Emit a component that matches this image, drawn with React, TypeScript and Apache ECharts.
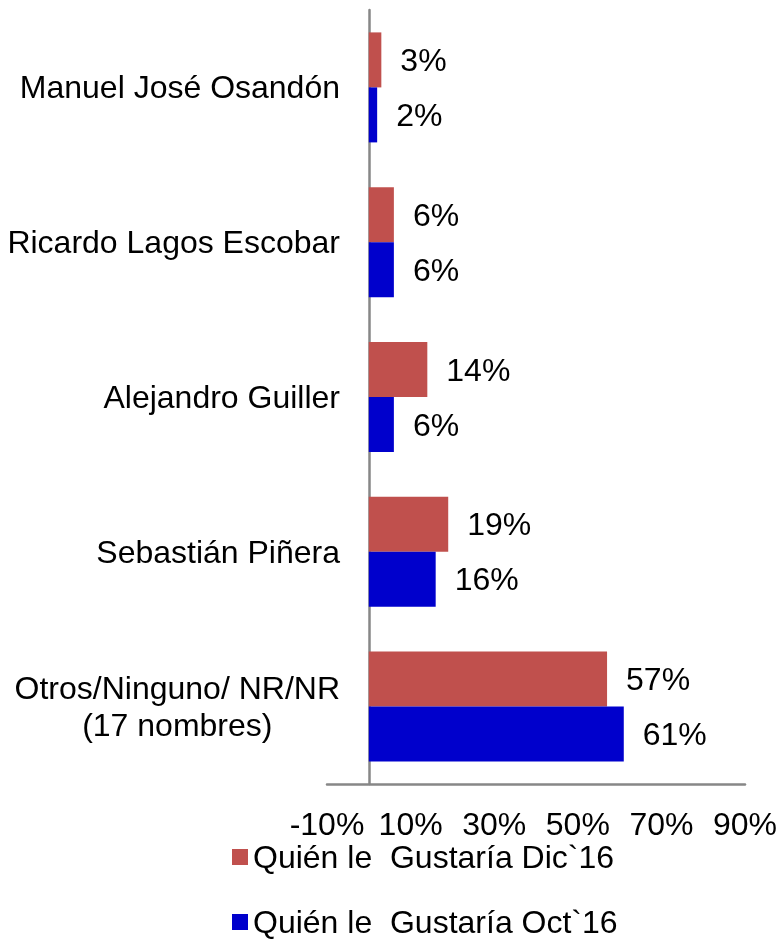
import React, { useEffect, useRef } from "react";
import * as echarts from "echarts";

const categories = [
  "Manuel José Osandón",
  "Ricardo Lagos Escobar",
  "Alejandro Guiller",
  "Sebastián Piñera",
  "Otros/Ninguno/ NR/NR\n(17 nombres)",
];
const seriesDicName = "Quién le  Gustaría Dic`16";
const seriesOctName = "Quién le  Gustaría Oct`16";
const valuesDic = [3, 6, 14, 19, 57];
const valuesOct = [2, 6, 6, 16, 61];
const xTicks = [-10, 10, 30, 50, 70, 90];

const FONT = "'Liberation Sans', Arial, Helvetica, sans-serif";
const FS = 32;

export default function App() {
  const ref = useRef<HTMLDivElement>(null);
  useEffect(() => {
    if (!ref.current) return;
    const chart = echarts.init(ref.current, null, { renderer: "svg" });
    const labelStyle = {
      show: true,
      position: "right" as const,
      distance: 19,
      formatter: "{c}%",
      color: "#000",
      fontSize: FS,
      fontFamily: FONT,
    };
    const legendBase = {
      orient: "vertical",
      left: 232,
      padding: 0,
      itemWidth: 16,
      itemHeight: 16,
      icon: "rect",
      textStyle: { fontSize: FS, color: "#000", fontFamily: FONT },
    };
    chart.setOption({
      animation: false,
      textStyle: { fontFamily: FONT },
      grid: {
        left: 327,
        right: 34,
        top: 10,
        bottom: 155,
        containLabel: false,
        outerBoundsMode: "none",
      },
      legend: [
        { ...legendBase, top: 841, data: [seriesDicName] },
        { ...legendBase, top: 906, data: [seriesOctName] },
      ],
      xAxis: {
        type: "value",
        min: -10,
        max: 90,
        splitLine: { show: false },
        axisTick: { show: false },
        axisLine: { show: true, lineStyle: { color: "#878787", width: 2.5 } },
        axisLabel: {
          customValues: xTicks,
          formatter: (v: number) => `${v}%`,
          fontSize: FS,
          color: "#000",
          fontFamily: FONT,
          margin: 24,
        },
      },
      yAxis: {
        type: "category",
        inverse: true,
        data: categories,
        axisTick: { show: false },
        axisLine: { show: true, onZero: true, lineStyle: { color: "#878787", width: 2.5 } },
        axisLabel: {
          margin: -13,
          fontSize: FS,
          color: "#000",
          fontFamily: FONT,
          lineHeight: 37,
          formatter: (v: string) =>
            v
              .split("\n")
              .map((l) => `{c|${l}}`)
              .join("\n"),
          rich: {
            c: { align: "center", fontSize: FS, lineHeight: 37, color: "#000", fontFamily: FONT },
          },
        },
      },
      series: [
        {
          name: seriesDicName,
          type: "bar",
          data: valuesDic,
          barWidth: 55,
          barGap: "0%",
          itemStyle: { color: "#C0504D" },
          label: labelStyle,
        },
        {
          name: seriesOctName,
          type: "bar",
          data: valuesOct,
          barWidth: 55,
          barGap: "0%",
          itemStyle: { color: "#0000CC" },
          label: labelStyle,
        },
      ],
    });
    return () => chart.dispose();
  }, []);
  return (
    <div
      ref={ref}
      style={{ position: "fixed", left: 0, top: 0, width: 779, height: 939 }}
    />
  );
}
